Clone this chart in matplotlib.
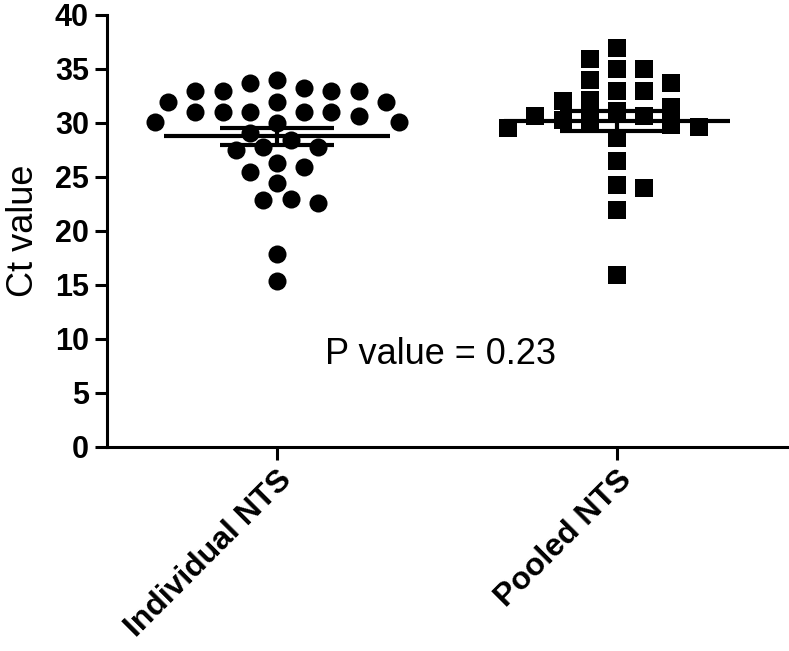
import numpy as np
import matplotlib
matplotlib.use('Agg')
import matplotlib.pyplot as plt

plt.rcParams['font.family'] = ['Liberation Sans', 'DejaVu Sans']

groups = ['Individual NTS', 'Pooled NTS']

# Ct 值
individual = [34.0, 31.9, 33.2, 33.0, 33.0, 33.0, 33.0, 33.7, 31.9, 31.9,
              31.0, 30.1, 31.0, 31.0, 30.6, 31.0, 31.0, 30.0, 30.1,
              28.4, 29.1, 27.5, 27.8, 27.8,
              25.9, 25.5, 26.3, 24.4, 23.0, 22.6, 22.9, 17.9, 15.4]
pooled = [36.9, 35.9, 35.0, 35.0, 34.0, 33.7, 33.0, 33.0, 32.0, 31.5,
          32.1, 31.1, 30.6, 30.3, 29.6, 29.8, 30.3, 30.6, 29.5,
          28.6, 26.5, 24.3, 24.0, 21.9, 15.9]
p_text = 'P value = 0.23'

fig = plt.figure(figsize=(7.89, 6.51), dpi=100)
ax = fig.add_axes([0.1356, 0.3134, 0.862, 0.6636])
ax.set_xlim(-0.5, 1.5)
ax.set_ylim(0, 40)

# 像素 <-> 数据单位
px_x = 2.0 / 680   # x: 680 px 对应 2 个单位
px_y = 40.0 / 432  # y: 432 px 对应 40


# 类似 GraphPad 的散点排布（像素坐标里算），网格步长 step
def spread(vals, step, d, square):
    ys = np.array(vals) / px_y
    order = np.argsort(ys)[::-1]
    offs = np.zeros(len(ys))
    placed = []
    for idx in order:
        y = ys[idx]
        left = sum(1 for px, _ in placed if px < 0)
        right = sum(1 for px, _ in placed if px > 0)
        best = None
        for k in range(0, 20):
            opts = [0] if k == 0 else ([k, -k] if left > right else [-k, k])
            for c in opts:
                x = c * step
                if square:
                    ok = all(abs(x - px) >= d or abs(y - py) >= d * 0.9 for px, py in placed)
                else:
                    ok = all(np.hypot(x - px, y - py) >= d for px, py in placed)
                if ok:
                    best = x
                    break
            if best is not None:
                break
        placed.append((best, y))
        offs[idx] = best * px_x
    return offs


markers = ['o', 's']
for i, vals in enumerate([individual, pooled]):
    v = np.array(vals)
    offs = spread(v, 13.6, 19.5, square=(i == 1))
    ax.plot(i + offs, v, linestyle='none', marker=markers[i], color='black',
            markersize=13 if i == 0 else 12.5, markeredgewidth=0, zorder=3)

    # 均值 ± 标准误
    m = v.mean()
    s = v.std(ddof=1) / np.sqrt(len(v))
    ax.hlines(m, i - 0.333, i + 0.333, color='black', lw=3, zorder=5)
    ax.hlines([m - s, m + s], i - 0.167, i + 0.167, color='black', lw=3, zorder=5)
    ax.vlines(i, m - s, m + s, color='black', lw=3, zorder=5)

ax.set_xlim(-0.5, 1.5)
ax.set_ylim(0, 40)
ax.set_yticks(range(0, 41, 5))
ax.set_xticks([0, 1])
ax.set_xticklabels(groups, rotation=45, ha='right', rotation_mode='anchor',
                   fontsize=23, fontweight='bold')
for lab in ax.get_yticklabels():
    lab.set_fontsize(22)
    lab.set_fontweight('bold')
ax.set_ylabel('Ct value', fontsize=26, labelpad=10)

for side in ['top', 'right']:
    ax.spines[side].set_visible(False)
for side in ['left', 'bottom']:
    ax.spines[side].set_linewidth(2.2)
ax.tick_params(axis='both', width=2.2, length=9, pad=4)

ax.text(0.48, 8.6, p_text, ha='center', va='center', fontsize=26)

fig.savefig('out.png', dpi=100)
